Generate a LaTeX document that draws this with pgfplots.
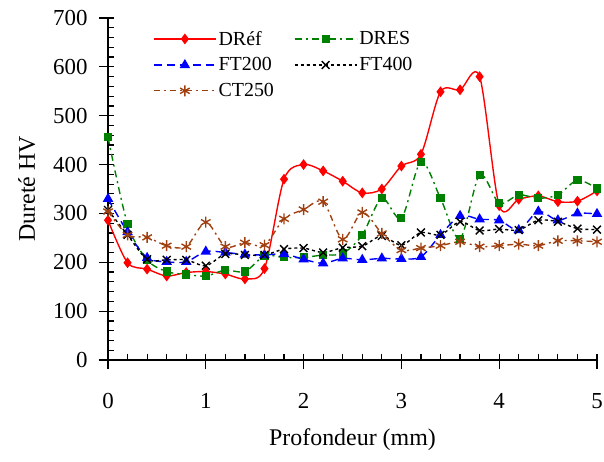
\documentclass[border=0pt]{standalone}
\usepackage{pgfplots}
\pgfplotsset{compat=1.18}
\usepackage{pgfplotstable}
\usepackage{fontspec}
\setmainfont{Liberation Serif}
\definecolor{dgreen}{RGB}{0,128,0}
\definecolor{brownc}{RGB}{160,64,16}
\pgfplotstableread{
x DRef DRES FT200 FT400 CT250
0 286 456 330 307 304
0.2 199 278 262 256 256
0.4 186 205 209 206 251
0.6 172 181 201 205 234
0.8 179 175 201 205 232
1.0 181 172 222 193 282
1.2 176 184 220 217 232
1.4 166 181 216 215 240
1.6 187 213 215 215 235
1.8 370 210 217 227 289
2.0 400 210 206 229 308
2.2 387 215 198 220 324
2.4 366 218 208 230 247
2.6 342 256 205 233 302
2.8 350 331 208 254 259
3.0 397 290 207 235 225
3.2 421 406 211 261 229
3.4 549 331 256 256 234
3.6 553 248 295 283 242
3.8 580 379 288 265 232
4.0 316 321 286 268 234
4.2 329 338 266 266 237
4.4 336 331 304 286 234
4.6 324 338 286 283 244
4.8 325 368 300 269 244
5.0 346 351 299 267 242
}\datatable
\begin{document}
\begin{tikzpicture}
\path[use as bounding box] (-108bp,-102bp) rectangle (496bp,360bp);
\begin{axis}[
  at={(0,0)}, anchor=south west,
  scale only axis, width=489bp, height=342bp,
  xmin=0, xmax=5, ymin=0, ymax=700,
  xtick={0,1,2,3,4,5}, ytick={0,100,...,700},
  minor x tick num=4, minor y tick num=4,
  axis x line*=bottom, axis y line*=left,
  axis line style={-, line width=1.2pt},
  tick style={black, line width=1.2pt},
  tick align=inside, major tick length=6bp, minor tick length=6bp,
  extra x ticks={0,1,2,3,4,5}, extra y ticks={0,100,...,700},
  extra x tick labels={}, extra y tick labels={},
  extra tick style={tick align=outside, major tick length=9bp},
  /pgf/number format/assume math mode=true,
  ticklabel style={font=\fontsize{23}{27}\selectfont},
  xticklabel style={yshift=-30bp},
  yticklabel style={xshift=-17bp},
  xlabel={Profondeur (mm)}, ylabel={Dureté HV},
  label style={font=\fontsize{24}{28}\selectfont},
  xlabel style={yshift=-4bp},
  ylabel style={yshift=2bp},
  legend style={at={(42bp,333bp)}, anchor=north west, draw=none, fill=none,
    font=\fontsize{20}{24}\selectfont, legend columns=2,
    row sep=7bp,
    /tikz/every even column/.append style={column sep=18bp}},
  legend cell align=left,
  legend image code/.code={\draw[mark repeat=2,mark phase=2] plot coordinates {(0bp,0bp) (31bp,0bp) (62bp,0bp)};},
  every axis plot/.append style={line width=1.4pt, smooth},
]
\addplot[red, mark=diamond*, mark size=4.3bp, mark options={solid, fill=red}] table[x=x,y=DRef] {\datatable};
\addlegendentry{DRéf}
\addplot[dgreen, dash pattern=on 7bp off 4bp on 2bp off 4bp, mark=square*, mark size=3.4bp, mark options={solid, fill=dgreen}] table[x=x,y=DRES] {\datatable};
\addlegendentry{DRES}
\addplot[blue, dash pattern=on 8bp off 5bp, mark=triangle*, mark size=4.7bp, mark options={solid, fill=blue}] table[x=x,y=FT200] {\datatable};
\addlegendentry{FT200}
\addplot[black, dash pattern=on 3bp off 3bp, mark=x, mark size=5.5bp, mark options={solid}] table[x=x,y=FT400] {\datatable};
\addlegendentry{FT400}
\addplot[brownc, dash pattern=on 6bp off 4bp on 2bp off 4bp, mark=asterisk, mark size=5.5bp, mark options={solid}] table[x=x,y=CT250] {\datatable};
\addlegendentry{CT250}
\end{axis}
\end{tikzpicture}
\end{document}
